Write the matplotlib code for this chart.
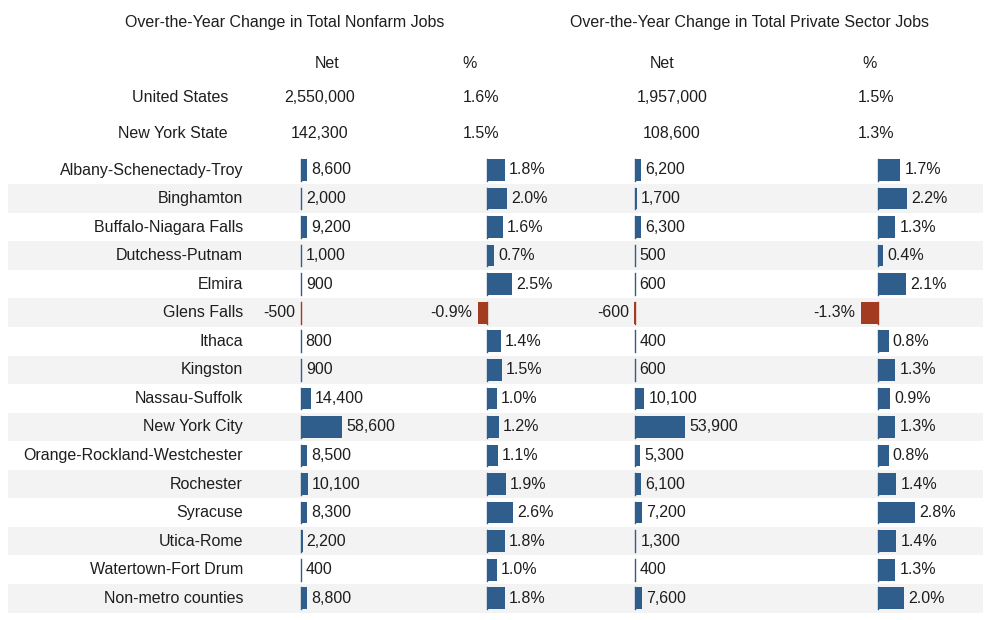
import matplotlib
matplotlib.use("Agg")
import matplotlib.pyplot as plt

plt.rcParams['font.family'] = ['Liberation Sans', 'DejaVu Sans']

areas = ['Albany-Schenectady-Troy', 'Binghamton', 'Buffalo-Niagara Falls', 'Dutchess-Putnam',
         'Elmira', 'Glens Falls', 'Ithaca', 'Kingston', 'Nassau-Suffolk', 'New York City',
         'Orange-Rockland-Westchester', 'Rochester', 'Syracuse', 'Utica-Rome',
         'Watertown-Fort Drum', 'Non-metro counties']
nonfarm_net = [8600, 2000, 9200, 1000, 900, -500, 800, 900, 14400, 58600,
               8500, 10100, 8300, 2200, 400, 8800]
nonfarm_pct = [1.8, 2.0, 1.6, 0.7, 2.5, -0.9, 1.4, 1.5, 1.0, 1.2,
               1.1, 1.9, 2.6, 1.8, 1.0, 1.8]
private_net = [6200, 1700, 6300, 500, 600, -600, 400, 600, 10100, 53900,
               5300, 6100, 7200, 1300, 400, 7600]
private_pct = [1.7, 2.2, 1.3, 0.4, 2.1, -1.3, 0.8, 1.3, 0.9, 1.3,
               0.8, 1.4, 2.8, 1.4, 1.3, 2.0]

top_names = ['United States', 'New York State']
top_nonfarm_net = ['2,550,000', '142,300']
top_nonfarm_pct = ['1.6%', '1.5%']
top_private_net = ['1,957,000', '108,600']
top_private_pct = ['1.5%', '1.3%']

BLUE = '#2f5d8c'
RED = '#a33b20'
TXT = '#1e1e1e'
FS = 11.5

W, H = 990, 620
fig = plt.figure(figsize=(W / 100, H / 100), dpi=100)

# rows: metro row i centred at y=i; header rows above
row_px0, row_h = 170, 28.55
ylim = ((H - row_px0) / row_h, -row_px0 / row_h)


def px_to_row(py):
    return (py - row_px0) / row_h


# background axes: pixel x, row y
bg = fig.add_axes([0, 0, 1, 1])
bg.set_xlim(0, W)
bg.set_ylim(*ylim)
bg.axis('off')
for i in range(len(areas)):
    if i % 2 == 1:
        bg.fill_between([8, 983], i - 0.5, i + 0.5, color='#f3f3f3', lw=0, zorder=0)
    bg.text(243, i, areas[i], ha='right', va='center', fontsize=FS, color=TXT)

bg.text(285, px_to_row(23), 'Over-the-Year Change in Total Nonfarm Jobs',
        ha='center', va='center', fontsize=FS, color=TXT)
bg.text(750, px_to_row(23), 'Over-the-Year Change in Total Private Sector Jobs',
        ha='center', va='center', fontsize=FS, color=TXT)
for x, s in [(327, 'Net'), (470, '%'), (662, 'Net'), (870, '%')]:
    bg.text(x, px_to_row(63.5), s, ha='center', va='center', fontsize=FS, color=TXT)

for j, name in enumerate(top_names):
    y = px_to_row(98 + 36 * j)
    bg.text(228, y, name, ha='right', va='center', fontsize=FS, color=TXT)
    bg.text(320, y, top_nonfarm_net[j], ha='center', va='center', fontsize=FS, color=TXT)
    bg.text(481, y, top_nonfarm_pct[j], ha='center', va='center', fontsize=FS, color=TXT)
    bg.text(672, y, top_private_net[j], ha='center', va='center', fontsize=FS, color=TXT)
    bg.text(876, y, top_private_pct[j], ha='center', va='center', fontsize=FS, color=TXT)


def bar_column(values, zero_px, px_per_unit, fmt):
    ax = fig.add_axes([0, 0, 1, 1])
    ax.patch.set_alpha(0)
    ax.set_xlim(-zero_px / px_per_unit, (W - zero_px) / px_per_unit)
    ax.set_ylim(*ylim)
    ax.axis('off')
    rows = list(range(len(values)))
    colors = [BLUE if v >= 0 else RED for v in values]
    ax.barh(rows, values, height=0.76, color=colors, zorder=2)
    # thin zero line per bar so tiny values remain visible
    for i, v in enumerate(values):
        ax.plot([0, 0], [i - 0.38, i + 0.38], color=colors[i], lw=1, zorder=3)
        if v >= 0:
            ax.annotate(fmt(v), (v, i), xytext=(3, 0), textcoords='offset points',
                        ha='left', va='center', fontsize=FS, color=TXT)
        else:
            ax.annotate(fmt(v), (v, i), xytext=(-4, 0), textcoords='offset points',
                        ha='right', va='center', fontsize=FS, color=TXT)
    return ax


bar_column(nonfarm_net, 301, 41 / 58600, lambda v: f'{v:,}')
bar_column(nonfarm_pct, 487, 10.0, lambda v: f'{v:.1f}%')
bar_column(private_net, 635, 50 / 53900, lambda v: f'{v:,}')
bar_column(private_pct, 878, 13.2, lambda v: f'{v:.1f}%')

fig.savefig('out.png', dpi=100)
